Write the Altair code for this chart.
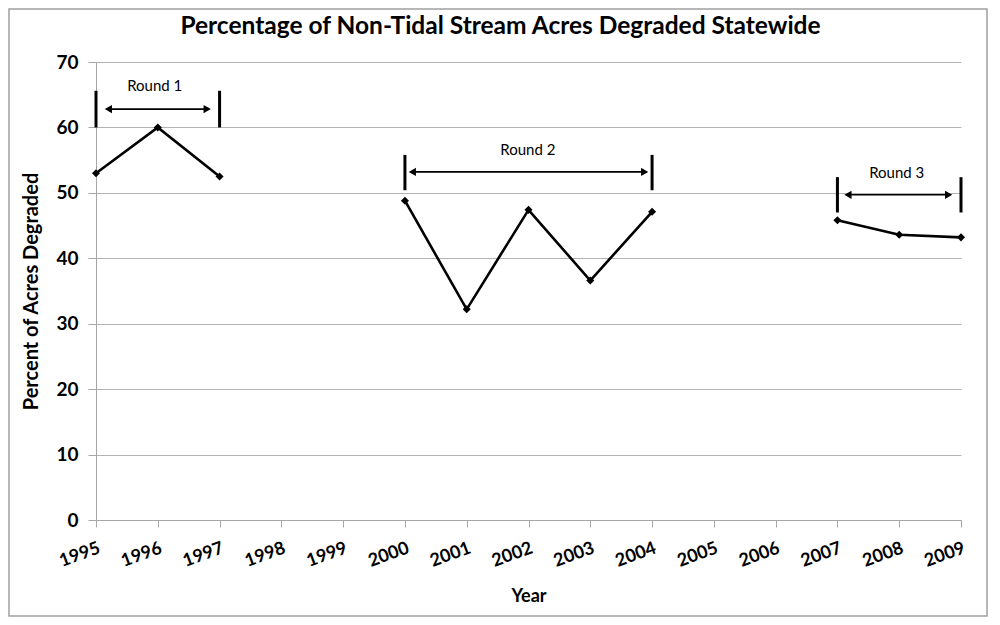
import altair as alt
import pandas as pd

years = [1995, 1996, 1997, 2000, 2001, 2002, 2003, 2004, 2007, 2008, 2009]
pct = [53.0, 60.0, 52.5, 48.8, 32.2, 47.4, 36.6, 47.1, 45.8, 43.6, 43.2]
segment = [1, 1, 1, 2, 2, 2, 2, 2, 3, 3, 3]

round_labels = ["Round 1", "Round 2", "Round 3"]
round_start = [1995, 2000, 2007]
round_end = [1997, 2004, 2009]
bracket_low = [60.0, 50.4, 47.0]
bracket_high = [65.6, 55.8, 52.4]
arrow_y = [62.8, 53.2, 49.7]
arrow_from = [1995.2, 2000.12, 2007.17]
arrow_to = [1996.8, 2003.88, 2008.8]
label_x = [1995.95, 2001.99, 2007.96]
label_y = [66.3, 56.6, 53.1]

chart_title = ["Percentage of Non-Tidal Stream Acres Degraded Statewide"]

tick_years = list(range(1995, 2010))
y_ticks = [0, 10, 20, 30, 40, 50, 60, 70]

FONT = "Lato"
W, H = 865, 458

df = pd.DataFrame({"Year": years, "Pct": pct, "Seg": segment})
rounds = pd.DataFrame({
    "label": round_labels, "start": round_start, "end": round_end,
    "lo": bracket_low, "hi": bracket_high, "ay": arrow_y,
    "afrom": arrow_from, "ato": arrow_to, "lx": label_x, "ly": label_y,
})

xscale = alt.Scale(domain=[1995, 2009], nice=False, zero=False)
yscale = alt.Scale(domain=[0, 70], nice=False)

xaxis = alt.Axis(
    title="Year", values=tick_years, format="d", labelAngle=-20,
    labelAlign="right", labelBaseline="top", labelFont=FONT, labelFontSize=18,
    labelFontWeight="bold", labelColor="black", labelPadding=12, labelOverlap=False,
    titleFont=FONT, titleFontSize=18, titleFontWeight="bold", titleColor="black",
    titlePadding=17, grid=False, domainColor="#a6a6a6", tickColor="#a6a6a6",
    tickSize=7, labelFlush=False,
)
yaxis = alt.Axis(
    title="Percent of Acres Degraded", values=y_ticks, labelFont=FONT,
    labelFontSize=19, labelFontWeight="bold", labelColor="black", labelPadding=10,
    titleFont=FONT, titleFontSize=20, titleFontWeight="bold", titleColor="black",
    titlePadding=14, grid=True, gridColor="#b3b3b3", gridWidth=1.2,
    domainColor="#a6a6a6", tickColor="#a6a6a6", tickSize=8,
)

base = alt.Chart(df)

line = base.mark_line(color="black", strokeWidth=2.6).encode(
    x=alt.X("Year:Q", scale=xscale, axis=xaxis),
    y=alt.Y("Pct:Q", scale=yscale, axis=yaxis),
    detail="Seg:N",
)
pts = base.mark_point(shape="diamond", filled=True, color="black", size=65, opacity=1).encode(
    x=alt.X("Year:Q", scale=xscale), y=alt.Y("Pct:Q", scale=yscale)
)

rb = alt.Chart(rounds)
br_start = rb.mark_rule(color="black", strokeWidth=3).encode(
    x=alt.X("start:Q", scale=xscale), y=alt.Y("lo:Q", scale=yscale), y2="hi:Q"
)
br_end = rb.mark_rule(color="black", strokeWidth=3).encode(
    x=alt.X("end:Q", scale=xscale), y=alt.Y("lo:Q", scale=yscale), y2="hi:Q"
)
arrow = rb.mark_rule(color="black", strokeWidth=1.6).encode(
    x=alt.X("afrom:Q", scale=xscale), x2="ato:Q", y=alt.Y("ay:Q", scale=yscale)
)
head_l = rb.mark_point(shape="triangle-left", filled=True, color="black", size=70, opacity=1).encode(
    x=alt.X("afrom:Q", scale=xscale), y=alt.Y("ay:Q", scale=yscale)
)
head_r = rb.mark_point(shape="triangle-right", filled=True, color="black", size=70, opacity=1).encode(
    x=alt.X("ato:Q", scale=xscale), y=alt.Y("ay:Q", scale=yscale)
)
labels = rb.mark_text(font=FONT, fontSize=15, color="black").encode(
    x=alt.X("lx:Q", scale=xscale), y=alt.Y("ly:Q", scale=yscale), text="label:N"
)

title_mark = alt.Chart(pd.DataFrame({"t": chart_title})).mark_text(
    font=FONT, fontSize=24.5, fontWeight="bold", color="black", align="center", baseline="middle"
).encode(x=alt.value(W / 2 - 28), y=alt.value(-35), text="t:N")

frame = alt.Chart(pd.DataFrame({"k": [0]})).mark_rect(
    fill=None, stroke="#a0a0a0", strokeWidth=1.5
).encode(
    x=alt.value(-87), x2=alt.value(W + 26), y=alt.value(-53), y2=alt.value(H + 96)
)

chart = alt.layer(frame, title_mark, line, pts, br_start, br_end, arrow, head_l, head_r, labels).properties(
    width=W, height=H,
    autosize=alt.AutoSizeParams(type="none"),
    padding={"left": 88, "top": 54, "right": 27, "bottom": 97},
    background="white",
).configure_view(strokeWidth=0)

chart.save("out.html", embed_options={"renderer": "svg", "actions": False})
